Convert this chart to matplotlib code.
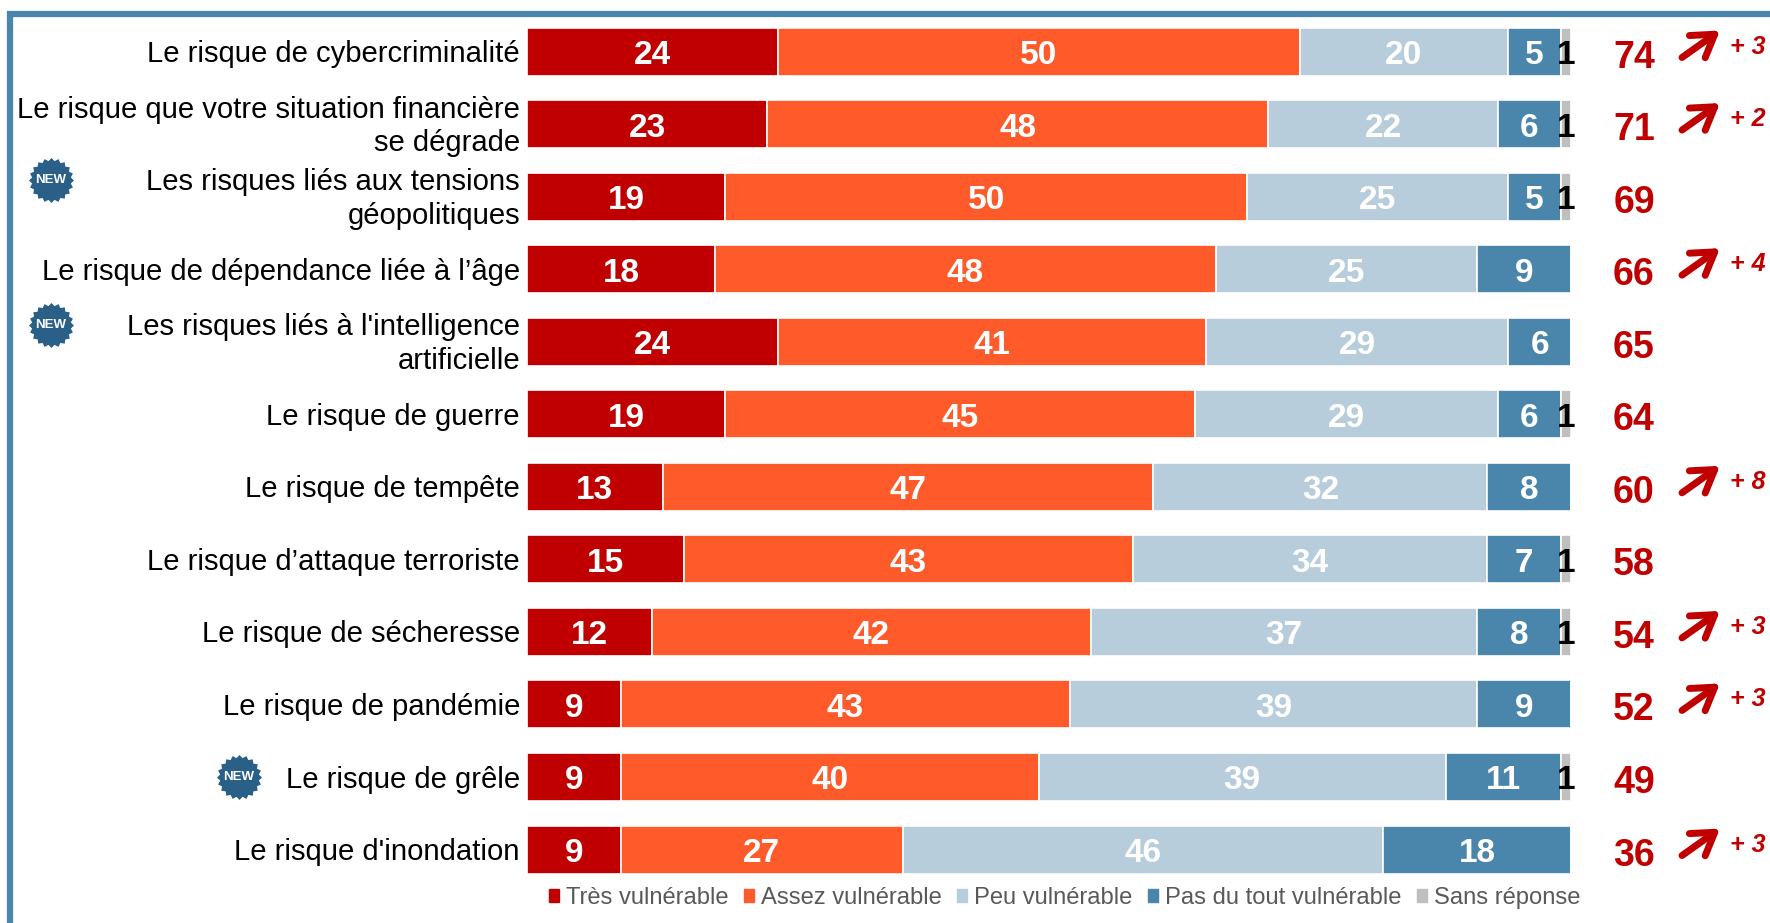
import matplotlib
matplotlib.use("Agg")
import matplotlib.pyplot as plt
import numpy as np
from matplotlib.lines import Line2D
from matplotlib.patches import Patch

plt.rcParams['font.family'] = ['Liberation Sans', 'DejaVu Sans']

labels = [
    "Le risque de cybercriminalité",
    "Le risque que votre situation financière\nse dégrade",
    "Les risques liés aux tensions\ngéopolitiques",
    "Le risque de dépendance liée à l’âge",
    "Les risques liés à l'intelligence\nartificielle",
    "Le risque de guerre",
    "Le risque de tempête",
    "Le risque d’attaque terroriste",
    "Le risque de sécheresse",
    "Le risque de pandémie",
    "Le risque de grêle",
    "Le risque d'inondation",
]
tres = [24, 23, 19, 18, 24, 19, 13, 15, 12, 9, 9, 9]
assez = [50, 48, 50, 48, 41, 45, 47, 43, 42, 43, 40, 27]
peu = [20, 22, 25, 25, 29, 29, 32, 34, 37, 39, 39, 46]
pas = [5, 6, 5, 9, 6, 6, 8, 7, 8, 9, 11, 18]
sans = [1, 1, 1, 0, 0, 1, 0, 1, 1, 0, 1, 0]
totals = [74, 71, 69, 66, 65, 64, 60, 58, 54, 52, 49, 36]
deltas = [3, 2, None, 4, None, None, 8, None, 3, 3, None, 3]
new_rows = [2, 4, 10]

series = [tres, assez, peu, pas, sans]
names = ["Très vulnérable", "Assez vulnérable", "Peu vulnérable",
         "Pas du tout vulnérable", "Sans réponse"]
colors = ["#c00000", "#ff5a29", "#b7cddb", "#4a86ab", "#bfbfbf"]
red = "#c00000"

W, H = 1770, 923
X0, PX = 527.0, 10.44      # bar origin and pixels per percent
Y0, DY = 51.5, 72.55       # first row centre and row pitch

fig = plt.figure(figsize=(W / 100, H / 100), dpi=100)
ax = fig.add_axes([0, 0, 1, 1])
ax.set_xlim(-X0 / PX, (W - X0) / PX)
ax.set_ylim((H - Y0) / DY, -Y0 / DY)
ax.axis("off")

# frame: only top and left are visible in the crop
fig.add_artist(Line2D([10, 10, W], [0, H - 14, H - 14], transform=None, color="#4a86ab",
                      lw=4.5, solid_joinstyle="miter"))

y = np.arange(len(labels))
left = np.zeros(len(labels))
for vals, col in zip(series, colors):
    vals = np.array(vals)
    ax.barh(y, vals, left=left, height=48 / DY, color=col, edgecolor="white", linewidth=1.2)
    for i, v in enumerate(vals):
        if v == 0:
            continue
        tc = "black" if v == 1 else "white"
        ax.text(left[i] + v / 2, i + 0.055, str(v), ha="center", va="center",
                color=tc, fontsize=24, fontweight="bold")
    left += vals

dx = 1 / PX
dy = 1 / DY
for i, lab in enumerate(labels):
    ax.text(-7 * dx, i + 2.5 * dy, lab, ha="right", va="center", fontsize=21.1, color="black",
            linespacing=1.25)
    ax.text((1634 - X0) / PX, i + 6 * dy, str(totals[i]), ha="center", va="center",
            color=red, fontsize=27, fontweight="bold")
    if deltas[i] is not None:
        ax.annotate("", xy=((1720 - X0) / PX, i - 21 * dy), xytext=((1682 - X0) / PX, i + 6 * dy),
                    arrowprops=dict(arrowstyle="->,head_length=0.55,head_width=0.35", color=red,
                                    lw=5, mutation_scale=28, shrinkA=0, shrinkB=0))
        ax.text((1748 - X0) / PX, i - 5 * dy, "+ %d" % deltas[i], ha="center", va="center",
                color=red, fontsize=18, fontweight="bold", fontstyle="italic")

# round seal for the NEW badge
ang = np.linspace(0, 2 * np.pi, 40, endpoint=False)
rad = np.where(np.arange(40) % 2 == 0, 1.0, 0.87)
seal = np.column_stack([rad * np.cos(ang), rad * np.sin(ang)])

for i in new_rows:
    bx = 239 if i == 10 else 51
    off = 0 if i == 10 else -17
    cx = (bx - X0) / PX
    ax.scatter([cx], [i + off * dy], marker=seal, s=1050, color="#2a5f88", linewidths=0)
    ax.text(cx, i + off * dy, "NEW", ha="center", va="center", color="white",
            fontsize=9.5, fontweight="bold")

handles = [Patch(color=c, label=n) for c, n in zip(colors, names)]
ax.legend(handles=handles, ncol=5, frameon=False, loc="center", fontsize=17.1, labelcolor="#595959",
          bbox_to_anchor=(1064.5 / W, 1 - 898 / H), handlelength=0.42, handleheight=0.42,
          handletextpad=0.3, columnspacing=0.65, borderpad=0)

fig.savefig("out.png", dpi=100)
